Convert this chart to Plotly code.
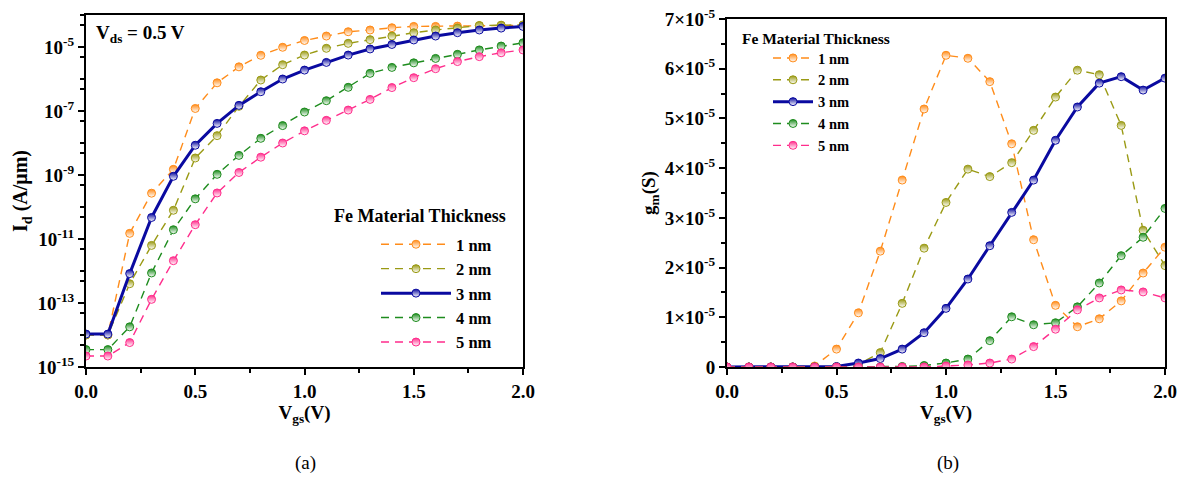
import plotly.graph_objects as go

vgs = [round(0.1 * i, 1) for i in range(21)]
labels = ["1 nm", "2 nm", "3 nm", "4 nm", "5 nm"]
colors = ["#FF8C1A", "#9A9A14", "#0A0AA0", "#1E8C1E", "#FF2D8C"]

# Id (A/um), left panel
id_1nm = [1.0e-14, 1.0e-14, 1.5e-11, 2.7e-10, 1.5e-9, 1.2e-7, 7.6e-7, 2.4e-6, 5.5e-6, 9.8e-6, 1.6e-5,
          2.2e-5, 3.0e-5, 3.4e-5, 4.0e-5, 4.4e-5, 4.4e-5, 4.5e-5, 4.6e-5, 4.7e-5, 4.8e-5]
id_2nm = [1.0e-14, 1.0e-14, 4.0e-13, 6.3e-12, 7.9e-11, 3.4e-9, 1.7e-8, 1.4e-7, 9.3e-7, 2.8e-6, 5.6e-6,
          9.1e-6, 1.3e-5, 1.7e-5, 2.2e-5, 2.8e-5, 3.4e-5, 3.9e-5, 4.7e-5, 4.8e-5, 4.9e-5]
id_3nm = [1.07e-14, 1.07e-14, 8.3e-13, 4.7e-11, 9.1e-10, 8.5e-9, 4.1e-8, 1.5e-7, 4.0e-7, 1.0e-6, 1.9e-6,
          3.3e-6, 5.6e-6, 8.7e-6, 1.2e-5, 1.66e-5, 2.2e-5, 2.8e-5, 3.4e-5, 3.9e-5, 4.4e-5]
id_4nm = [3.5e-15, 3.5e-15, 1.8e-14, 8.7e-13, 1.95e-11, 1.8e-10, 1.05e-9, 4.1e-9, 1.4e-8, 3.5e-8, 9.3e-8,
          2.1e-7, 5.5e-7, 1.5e-6, 2.3e-6, 3.2e-6, 4.4e-6, 5.9e-6, 8.1e-6, 1.07e-5, 1.35e-5]
id_5nm = [2.2e-15, 2.2e-15, 5.8e-15, 1.3e-13, 2.1e-12, 2.8e-11, 2.75e-10, 1.2e-9, 3.6e-9, 1.0e-8, 2.4e-8,
          5.1e-8, 1.07e-7, 2.3e-7, 5.4e-7, 1.1e-6, 2.1e-6, 3.5e-6, 5.0e-6, 6.6e-6, 8.1e-6]

# gm (S), right panel
gm_1nm = [0, 0, 0, 0, 0.02e-5, 0.36e-5, 1.09e-5, 2.33e-5, 3.76e-5, 5.19e-5, 6.27e-5,
          6.21e-5, 5.74e-5, 4.49e-5, 2.56e-5, 1.24e-5, 0.81e-5, 0.97e-5, 1.33e-5, 1.89e-5, 2.41e-5]
gm_2nm = [0, 0, 0, 0, 0, 0, 0.05e-5, 0.29e-5, 1.28e-5, 2.39e-5, 3.31e-5,
          3.98e-5, 3.83e-5, 4.11e-5, 4.76e-5, 5.43e-5, 5.97e-5, 5.88e-5, 4.86e-5, 2.75e-5, 2.04e-5]
gm_3nm = [0, 0, 0, 0, 0, 0.01e-5, 0.08e-5, 0.17e-5, 0.36e-5, 0.69e-5, 1.18e-5,
          1.77e-5, 2.44e-5, 3.11e-5, 3.76e-5, 4.56e-5, 5.23e-5, 5.71e-5, 5.84e-5, 5.57e-5, 5.81e-5]
gm_4nm = [0, 0, 0, 0, 0, 0, 0, 0, 0.01e-5, 0.03e-5, 0.08e-5,
          0.16e-5, 0.53e-5, 1.01e-5, 0.85e-5, 0.89e-5, 1.21e-5, 1.69e-5, 2.24e-5, 2.61e-5, 3.19e-5]
gm_5nm = [0, 0, 0, 0, 0, 0, 0, 0, 0, 0, 0.02e-5,
          0.04e-5, 0.08e-5, 0.16e-5, 0.41e-5, 0.76e-5, 1.15e-5, 1.39e-5, 1.55e-5, 1.51e-5, 1.39e-5]

id_series = [id_1nm, id_2nm, id_3nm, id_4nm, id_5nm]
gm_series = [gm_1nm, gm_2nm, gm_3nm, gm_4nm, gm_5nm]

left_ytick_exp = [-15, -13, -11, -9, -7, -5]
right_ytick_vals = [0, 1e-5, 2e-5, 3e-5, 4e-5, 5e-5, 6e-5, 7e-5]
right_ytick_text = ["0"] + [f"{k}×10<sup>-5</sup>" for k in range(1, 8)]

SERIF = "Liberation Serif, Times New Roman, serif"

fig = go.Figure()

def add(xs, ys, i, xa, ya, leg):
    c = colors[i]
    solid = (i == 2)
    fig.add_trace(go.Scatter(
        x=xs, y=ys, name=labels[i], xaxis=xa, yaxis=ya, legend=leg,
        mode="lines+markers",
        line=dict(color=c, width=3 if solid else 1.4, dash="solid" if solid else "8px,6px"),
        marker=dict(symbol="circle", size=8, color=c,
                    gradient=dict(type="vertical", color="white"),
                    line=dict(color=c, width=1)),
    ))

for i in range(5):
    add(vgs, id_series[i], i, "x", "y", "legend")
for i in range(5):
    add(vgs, gm_series[i], i, "x2", "y2", "legend2")

tickfont = dict(family=SERIF, size=19, color="black", weight="bold")
axcommon = dict(showline=True, linecolor="black", linewidth=2, mirror=True,
                ticks="outside", ticklen=6, tickwidth=1.5, tickcolor="black",
                showgrid=False, zeroline=False, tickfont=tickfont, automargin=False)

fig.update_layout(
    width=1184, height=478,
    margin=dict(l=0, r=0, t=0, b=0),
    paper_bgcolor="white", plot_bgcolor="white",
    font=dict(family=SERIF, color="black"),
    xaxis=dict(domain=[86/1184, 523/1184], range=[0, 2.0], anchor="y",
               dtick=0.5, tickformat=".1f",
               minor=dict(dtick=0.25, ticks="outside", ticklen=4, tickcolor="black", tickwidth=1.5),
               title=dict(text="<b>V<sub>gs</sub>(V)</b>", font=dict(family=SERIF, size=19), standoff=0),
               **axcommon),
    yaxis=dict(domain=[1 - 367/478, 1 - 15/478], type="log", range=[-15, -4], anchor="x",
               tickvals=[10.0 ** e for e in left_ytick_exp],
               ticktext=[f"<b>10<sup>{e}</sup></b>" for e in left_ytick_exp],
               minor=dict(tickvals=[10.0 ** e for e in range(-14, -3, 2)] + [5 * 10.0 ** e for e in range(-15, -4)],
                          ticks="outside", ticklen=4, tickcolor="black", tickwidth=1.5),
               title=dict(text="<b>I<sub>d</sub> (A/μm)</b>", font=dict(family=SERIF, size=20), standoff=4),
               **axcommon),
    xaxis2=dict(domain=[727/1184, 1165/1184], range=[0, 2.0], anchor="y2",
                dtick=0.5, tickformat=".1f",
                minor=dict(dtick=0.25, ticks="outside", ticklen=4, tickcolor="black", tickwidth=1.5),
                title=dict(text="<b>V<sub>gs</sub>(V)</b>", font=dict(family=SERIF, size=19), standoff=0),
                **axcommon),
    yaxis2=dict(domain=[1 - 367/478, 1 - 19/478], range=[0, 7e-5], anchor="x2",
                tickvals=right_ytick_vals,
                ticktext=[f"<b>{t}</b>" for t in right_ytick_text],
                minor=dict(dtick=0.5e-5, ticks="outside", ticklen=4, tickcolor="black", tickwidth=1.5),
                title=dict(text="<b>g<sub>m</sub>(S)</b>", font=dict(family=SERIF, size=19), standoff=4),
                **axcommon),
    legend=dict(x=376/1184, y=1 - 227/478, xanchor="left", yanchor="top",
                bgcolor="rgba(0,0,0,0)", borderwidth=0,
                font=dict(family=SERIF, size=16.5, color="black", weight="bold"),
                tracegroupgap=0, itemwidth=70),
    legend2=dict(x=768/1184, y=1 - 42/478, xanchor="left", yanchor="top",
                 bgcolor="rgba(0,0,0,0)", borderwidth=0,
                 font=dict(family=SERIF, size=14.5, color="black", weight="bold"),
                 tracegroupgap=0, itemwidth=40),
    showlegend=True,
)

annotations = [
    dict(text="<b>Fe Material Thickness</b>", x=420/1184, y=1 - 216/478, xref="paper", yref="paper",
         showarrow=False, font=dict(family=SERIF, size=18, color="black"), xanchor="center", yanchor="middle"),
    dict(text="<b>Fe Material Thickness</b>", x=816/1184, y=1 - 38/478, xref="paper", yref="paper",
         showarrow=False, font=dict(family=SERIF, size=15.5, color="black"), xanchor="center", yanchor="middle"),
    dict(text="<b>V<sub>ds</sub> = 0.5 V</b>", x=94/1184, y=1 - 34/478, xref="paper", yref="paper",
         showarrow=False, font=dict(family=SERIF, size=19, color="black"), xanchor="left", yanchor="middle"),
    dict(text="(a)", x=305/1184, y=1 - 463/478, xref="paper", yref="paper",
         showarrow=False, font=dict(family=SERIF, size=19, color="black"), xanchor="center", yanchor="middle"),
    dict(text="(b)", x=948/1184, y=1 - 463/478, xref="paper", yref="paper",
         showarrow=False, font=dict(family=SERIF, size=19, color="black"), xanchor="center", yanchor="middle"),
]
fig.update_layout(annotations=annotations)

fig.write_html("out.html")
